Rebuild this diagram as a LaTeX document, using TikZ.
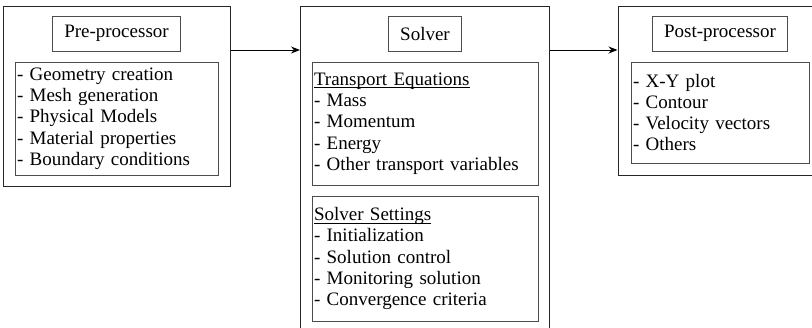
\documentclass[tikz,border=0pt]{standalone}
\usepackage{fontspec}
\setmainfont{Liberation Serif}
\usetikzlibrary{arrows.meta,positioning}
\newcommand\cfdfont{\fontsize{19}{21.3}\selectfont}
\newsavebox\cfdbox
\newcommand\cfdhead[1]{\sbox\cfdbox{#1}\rlap{\rule[-3pt]{\wd\cfdbox}{0.9pt}}\usebox\cfdbox}
\tikzset{
  stage/.style={rectangle,draw=black!85,line width=1pt},
  heading/.style={rectangle,draw=black!70,line width=1pt,
    minimum height=35pt,inner xsep=12pt,font=\cfdfont},
  items/.style={rectangle,draw=black!70,line width=1pt,
    align=left,inner xsep=2pt,font=\cfdfont},
  flow/.style={-{Stealth[length=9pt,width=7pt]},line width=1pt}
}

\begin{document}
\begin{tikzpicture}[x=1pt,y=1pt,node distance=10pt]
  \useasboundingbox (0,0) rectangle (812,-327);
  \clip (0,0) rectangle (812,-327);

  % the three stages
  \node[stage,minimum width=227pt,minimum height=180pt] (pre) at (116.5,-96) {};
  \node[stage,minimum width=249pt,minimum height=345pt] (solver) at (425,-178.5) {};
  \node[stage,minimum width=204pt,minimum height=169pt] (post) at (720,-90.5) {};

  % pre-processor
  \node[heading,below=10pt of pre.north] (pretitle) {Pre-processor};
  \node[items,text width=199pt,minimum height=113pt,below=of pretitle] (prelist)
    {- Geometry creation\\- Mesh generation\\- Physical Models\\
     - Material properties\\- Boundary conditions};

  % solver
  \node[heading,below=10pt of solver.north] (solvertitle) {Solver};
  \node[items,text width=222pt,minimum height=123pt,below=of solvertitle] (transport)
    {\cfdhead{Transport Equations}\\- Mass\\- Momentum\\- Energy\\
     - Other transport variables};
  \node[items,text width=222pt,minimum height=125pt,below=of transport] (settings)
    {\cfdhead{Solver Settings}\\- Initialization\\- Solution control\\
     - Monitoring solution\\- Convergence criteria};

  % post-processor
  \node[heading,below=10pt of post.north] (posttitle) {Post-processor};
  \node[items,text width=174pt,minimum height=101pt,below=of posttitle] (postlist)
    {- X-Y plot\\- Contour\\- Velocity vectors\\- Others};

  \coordinate (lvl) at (0,-50);
  \draw[flow] (pre.east |- lvl) -- (solver.west |- lvl);
  \draw[flow] (solver.east |- lvl) -- (post.west |- lvl);
\end{tikzpicture}
\end{document}
